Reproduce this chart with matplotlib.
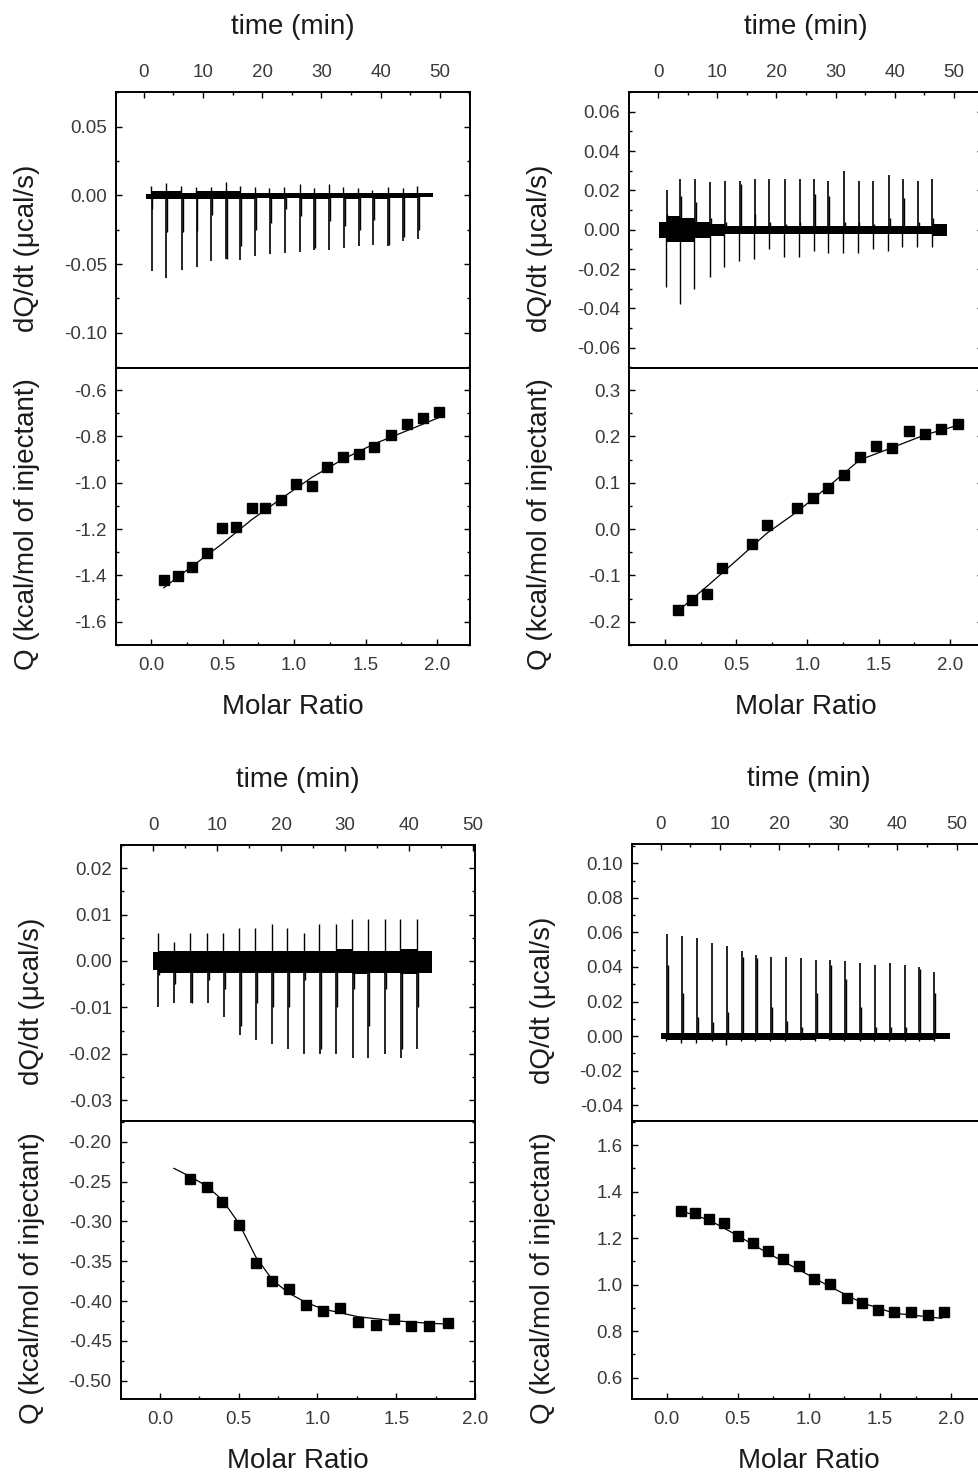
import numpy as np
import matplotlib
matplotlib.use('Agg')
import matplotlib.pyplot as plt
from matplotlib.ticker import MultipleLocator

plt.rcParams['font.family'] = ['Liberation Sans', 'DejaVu Sans']

W, H = 979, 1474  # output size in px (dpi 100)

# ---------------- panel A (top left) ----------------
A_t_span = [0.3, 48.9]
A_inj_t = [1.3, 3.8, 6.4, 8.9, 11.4, 13.9, 16.3, 18.8, 21.3, 23.8, 26.4, 28.8, 31.3, 33.8, 36.3, 38.7, 41.3, 43.8, 46.3]
A_inj_peak = [-0.055, -0.060, -0.054, -0.052, -0.048, -0.046, -0.047, -0.044, -0.043, -0.042,
              -0.041, -0.040, -0.040, -0.038, -0.037, -0.036, -0.037, -0.033, -0.032]
A_inj_tail = [-0.010, -0.027, -0.027, -0.026, -0.014, -0.046, -0.037, -0.025, -0.020, -0.010,
              -0.015, -0.038, -0.019, -0.022, -0.025, -0.018, -0.036, -0.030, -0.025]
A_inj_back = [0.007, 0.009, 0.007, 0.006, 0.006, 0.010, 0.007, 0.006, 0.005, 0.006,
              0.008, 0.005, 0.008, 0.006, 0.005, 0.004, 0.006, 0.005, 0.007]
A_band_hi = [0.001, 0.003, 0.003, 0.002, 0.003, 0.003, 0.003, 0.002, 0.002, 0.002,
             0.002, 0.002, 0.002, 0.002, 0.002, 0.002, 0.002, 0.002, 0.002, 0.002]
A_band_lo = [-0.003, -0.003, -0.003, -0.003, -0.003, -0.003, -0.003, -0.003, -0.002, -0.003,
             -0.002, -0.003, -0.003, -0.002, -0.003, -0.002, -0.003, -0.002, -0.002, -0.001]
A_ratio = [0.089, 0.19, 0.288, 0.391, 0.494, 0.593, 0.705, 0.799, 0.911, 1.016,
           1.124, 1.233, 1.341, 1.451, 1.558, 1.677, 1.787, 1.902, 2.016]
A_q = [-1.420, -1.403, -1.363, -1.305, -1.194, -1.190, -1.108, -1.111, -1.075, -1.006,
       -1.014, -0.934, -0.891, -0.878, -0.847, -0.794, -0.748, -0.722, -0.696]
A_fit_x = [0.089, 0.288, 0.494, 0.700, 0.911, 1.124, 1.341, 1.558, 1.787, 2.027]
A_fit_q = [-1.453, -1.360, -1.265, -1.161, -1.068, -0.977, -0.899, -0.833, -0.776, -0.715]
A_heat_ticks = [0.05, 0.00, -0.05, -0.10]
A_q_ticks = [-0.6, -0.8, -1.0, -1.2, -1.4, -1.6]

# ---------------- panel B (top right) ----------------
B_t_span = [0.2, 48.9]
B_inj_t = [1.4, 3.7, 6.2, 8.8, 11.3, 13.8, 16.3, 18.8, 21.4, 23.9, 26.4, 28.8, 31.4, 33.9, 36.4, 39.0, 41.4, 43.9, 46.4]
B_inj_peak = [0.020, 0.026, 0.026, 0.024, 0.025, 0.025, 0.026, 0.026, 0.026, 0.026,
              0.026, 0.025, 0.030, 0.025, 0.025, 0.028, 0.026, 0.025, 0.026]
B_inj_tail = [0.008, 0.017, 0.014, 0.006, 0.004, 0.023, 0.008, 0.004, 0.003, 0.004,
              0.018, 0.017, 0.004, 0.004, 0.003, 0.006, 0.016, 0.004, 0.006]
B_inj_back = [-0.029, -0.038, -0.030, -0.024, -0.019, -0.016, -0.015, -0.010, -0.014, -0.014,
              -0.011, -0.012, -0.012, -0.012, -0.010, -0.011, -0.009, -0.009, -0.009]
B_band_hi = [0.004, 0.007, 0.006, 0.004, 0.003, 0.002, 0.002, 0.002, 0.002, 0.002,
             0.002, 0.002, 0.002, 0.002, 0.002, 0.002, 0.002, 0.002, 0.002, 0.003]
B_band_lo = [-0.004, -0.006, -0.006, -0.004, -0.003, -0.002, -0.002, -0.002, -0.002, -0.002,
             -0.002, -0.002, -0.002, -0.002, -0.002, -0.002, -0.002, -0.002, -0.002, -0.003]
B_ratio = [0.094, 0.192, 0.295, 0.403, 0.610, 0.715, 0.926, 1.039, 1.144, 1.259,
           1.367, 1.484, 1.597, 1.714, 1.824, 1.941, 2.059]
B_q = [-0.175, -0.153, -0.139, -0.083, -0.032, 0.008, 0.046, 0.068, 0.089, 0.117,
       0.155, 0.179, 0.176, 0.212, 0.205, 0.216, 0.227]
B_fit_x = [0.094, 0.293, 0.504, 0.715, 0.926, 1.144, 1.367, 1.597, 1.824, 2.059]
B_fit_q = [-0.176, -0.124, -0.067, -0.009, 0.037, 0.091, 0.149, 0.176, 0.203, 0.224]
B_heat_ticks = [0.06, 0.04, 0.02, 0.00, -0.02, -0.04, -0.06]
B_q_ticks = [0.3, 0.2, 0.1, 0.0, -0.1, -0.2]

# ---------------- panel C (bottom left) ----------------
C_t_span = [0.0, 43.5]
C_inj_t = [0.8, 3.3, 5.9, 8.5, 11.0, 13.5, 16.0, 18.6, 21.0, 23.6, 26.0, 28.6, 31.2, 33.6, 36.3, 38.7, 41.3]
C_inj_peak = [-0.010, -0.009, -0.009, -0.009, -0.012, -0.016, -0.017, -0.018, -0.019, -0.020,
              -0.020, -0.020, -0.021, -0.021, -0.020, -0.021, -0.019]
C_inj_tail = [-0.003, -0.005, -0.009, -0.004, -0.006, -0.014, -0.009, -0.010, -0.010, -0.004,
              -0.019, -0.010, -0.006, -0.014, -0.006, -0.019, -0.010]
C_inj_back = [0.006, 0.004, 0.006, 0.006, 0.006, 0.007, 0.007, 0.008, 0.007, 0.006,
              0.008, 0.008, 0.009, 0.009, 0.009, 0.009, 0.009]
C_band_hi = [0.002, 0.0022, 0.0022, 0.0022, 0.0022, 0.0022, 0.0022, 0.0022, 0.0022,
             0.0022, 0.0022, 0.0022, 0.0025, 0.0022, 0.0022, 0.0022, 0.0025, 0.0022]
C_band_lo = [-0.002, -0.0025, -0.0025, -0.0025, -0.0025, -0.0025, -0.0025, -0.0025, -0.0025,
             -0.0025, -0.0025, -0.0025, -0.0025, -0.0028, -0.0025, -0.0025, -0.0028, -0.0025]
C_ratio = [0.194, 0.296, 0.397, 0.501, 0.608, 0.714, 0.820, 0.930, 1.035, 1.145,
           1.257, 1.373, 1.483, 1.595, 1.711, 1.828]
C_q = [-0.247, -0.2565, -0.276, -0.305, -0.352, -0.3745, -0.3845, -0.405, -0.412, -0.409,
       -0.426, -0.430, -0.423, -0.431, -0.431, -0.428]
C_fit_x = [0.089, 0.194, 0.296, 0.397, 0.501, 0.560, 0.608, 0.714, 0.820, 0.930,
           1.035, 1.257, 1.483, 1.711, 1.828]
C_fit_q = [-0.2335, -0.2439, -0.2556, -0.2732, -0.3025, -0.3255, -0.3444, -0.3736, -0.3904,
           -0.4021, -0.4100, -0.4197, -0.4247, -0.4280, -0.4289]
C_heat_ticks = [0.02, 0.01, 0.00, -0.01, -0.02, -0.03]
C_q_ticks = [-0.20, -0.25, -0.30, -0.35, -0.40, -0.45, -0.50]

# ---------------- panel D (bottom right) ----------------
D_t_span = [0.0, 48.8]
D_inj_t = [1.0, 3.6, 6.1, 8.7, 11.2, 13.7, 16.1, 18.6, 21.1, 23.7, 26.2, 28.6, 31.1, 33.7, 36.2, 38.7, 41.3, 43.7, 46.2]
D_inj_peak = [0.059, 0.058, 0.057, 0.054, 0.052, 0.049, 0.047, 0.046, 0.046, 0.045,
              0.044, 0.044, 0.0435, 0.0425, 0.041, 0.042, 0.041, 0.040, 0.037]
D_inj_tail = [0.041, 0.025, 0.011, 0.008, 0.014, 0.046, 0.045, 0.017, 0.009, 0.005,
              0.025, 0.041, 0.033, 0.017, 0.005, 0.005, 0.005, 0.039, 0.025]
D_inj_back = [-0.003, -0.004, -0.004, -0.003, -0.005, -0.003, -0.003, -0.003, -0.003, -0.002,
              -0.003, -0.002, -0.003, -0.003, -0.003, -0.003, -0.003, -0.003, -0.003]
D_band_hi = [0.0015, 0.0015, 0.002, 0.0015, 0.002, 0.0015, 0.0015, 0.0015, 0.0015, 0.0015,
             0.0015, 0.0015, 0.002, 0.0015, 0.0015, 0.0015, 0.0015, 0.0015, 0.0015, 0.002]
D_band_lo = [-0.0015, -0.002, -0.002, -0.0025, -0.002, -0.002, -0.002, -0.002, -0.002, -0.002,
             -0.002, -0.0015, -0.002, -0.002, -0.002, -0.002, -0.002, -0.002, -0.002, -0.0015]
D_ratio = [0.098, 0.197, 0.298, 0.406, 0.504, 0.610, 0.715, 0.821, 0.933, 1.039,
           1.149, 1.266, 1.372, 1.489, 1.601, 1.716, 1.834, 1.951]
D_q = [1.318, 1.306, 1.282, 1.263, 1.209, 1.180, 1.146, 1.110, 1.081, 1.023,
       1.003, 0.944, 0.920, 0.891, 0.884, 0.884, 0.871, 0.881]
D_fit_x = [0.098, 0.298, 0.504, 0.715, 0.933, 1.149, 1.372, 1.601, 1.834, 1.934]
D_fit_q = [1.318, 1.278, 1.209, 1.134, 1.063, 0.991, 0.922, 0.877, 0.862, 0.855]
D_heat_ticks = [0.10, 0.08, 0.06, 0.04, 0.02, 0.00, -0.02, -0.04]
D_q_ticks = [1.6, 1.4, 1.2, 1.0, 0.8, 0.6]

time_ticks = [0, 10, 20, 30, 40, 50]
ratio_ticks = [0.0, 0.5, 1.0, 1.5, 2.0]

TICK_C = '#3a3a3a'
LABEL_C = '#1a1a1a'


def px_axes(fig, left, top, width, height):
    return fig.add_axes([left / W, 1 - (top + height) / H, width / W, height / H])


def common_style(ax):
    for s in ax.spines.values():
        s.set_linewidth(1.4)
    ax.tick_params(which='both', direction='in', width=1.0, colors='k',
                   labelcolor=TICK_C, labelsize=13.5)
    ax.tick_params(which='major', length=4.5)
    ax.tick_params(which='minor', length=2.5)


def draw_panel(fig, left, top, mid, bottom, width, tlim, rlim, hlim, qlim,
               t_span, inj_t, peak, tail, back, band_hi, band_lo,
               ratio, q, fit_x, fit_q, heat_ticks, heat_fmt, heat_minor,
               q_ticks, q_fmt, q_minor):
    # thermogram: noisy baseline band + injection spikes
    ax1 = px_axes(fig, left, top, width, mid - top)
    edges = [t_span[0]] + list(inj_t) + [t_span[1]]
    ax1.fill_between(edges, band_lo + [band_lo[-1]], band_hi + [band_hi[-1]],
                     step='post', color='k', linewidth=0)
    ax1.vlines(inj_t, 0, peak, color='k', linewidth=1.2)
    ax1.vlines(np.array(inj_t) + 0.15, 0, tail, color='k', linewidth=1.0)
    ax1.vlines(np.array(inj_t) - 0.1, 0, back, color='k', linewidth=1.0)
    ax1.set_xlim(*tlim)
    ax1.set_ylim(*hlim)
    common_style(ax1)
    ax1.tick_params(axis='x', which='both', top=True, bottom=False,
                    labeltop=True, labelbottom=False, pad=8)
    ax1.tick_params(axis='y', which='both', left=True, right=True, pad=6.5)
    ax1.set_xticks(time_ticks, labels=[str(v) for v in time_ticks])
    ax1.xaxis.set_minor_locator(MultipleLocator(5))
    ax1.set_yticks(heat_ticks, labels=[heat_fmt % v for v in heat_ticks])
    ax1.yaxis.set_minor_locator(MultipleLocator(heat_minor))
    ax1.xaxis.set_label_position('top')
    ax1.set_xlabel('time (min)', fontsize=20, color=LABEL_C)
    ax1.xaxis.set_label_coords(0.5, 1 + 58 / (mid - top))
    ax1.set_ylabel('dQ/dt (\u03bccal/s)', fontsize=20, color=LABEL_C)
    ax1.yaxis.set_label_coords(-76 / width, 0.5 - 18 / (mid - top))

    # integrated heats
    ax2 = px_axes(fig, left, mid, width, bottom - mid)
    ax2.plot(fit_x, fit_q, color='k', linewidth=0.9)
    ax2.plot(ratio, q, linestyle='none', marker='s', markersize=6.5, color='k')
    ax2.set_xlim(*rlim)
    ax2.set_ylim(*qlim)
    common_style(ax2)
    ax2.tick_params(axis='x', which='both', top=False, bottom=True, pad=8.5)
    ax2.tick_params(axis='y', which='both', left=True, right=True, pad=6.5)
    ax2.set_xticks(ratio_ticks, labels=['%.1f' % v for v in ratio_ticks])
    ax2.xaxis.set_minor_locator(MultipleLocator(0.25))
    ax2.set_yticks(q_ticks, labels=[q_fmt % v for v in q_ticks])
    ax2.yaxis.set_minor_locator(MultipleLocator(q_minor))
    ax2.set_xlabel('Molar Ratio', fontsize=20, color=LABEL_C)
    ax2.xaxis.set_label_coords(0.5, -49 / (bottom - mid))
    ax2.set_ylabel('Q (kcal/mol of injectant)', fontsize=20, color=LABEL_C)
    ax2.yaxis.set_label_coords(-76 / width, 0.5 - 18 / (bottom - mid))


fig = plt.figure(figsize=(W / 100, H / 100), dpi=100)

draw_panel(fig, 116, 92, 368, 645, 354, (-4.7, 55.1), (-0.245, 2.23),
           (-0.1256, 0.0751), (-1.70, -0.505),
           A_t_span, A_inj_t, A_inj_peak, A_inj_tail, A_inj_back, A_band_hi, A_band_lo,
           A_ratio, A_q, A_fit_x, A_fit_q, A_heat_ticks, '%.2f', 0.025,
           A_q_ticks, '%.1f', 0.1)

draw_panel(fig, 629.3, 92, 368, 645, 354, (-4.9, 55.0), (-0.251, 2.236),
           (-0.0703, 0.070), (-0.25, 0.3475),
           B_t_span, B_inj_t, B_inj_peak, B_inj_tail, B_inj_back, B_band_hi, B_band_lo,
           B_ratio, B_q, B_fit_x, B_fit_q, B_heat_ticks, '%.2f', 0.01,
           B_q_ticks, '%.1f', 0.05)

draw_panel(fig, 120.7, 845, 1121, 1399.3, 354.3, (-5.1, 50.3), (-0.249, 1.994),
           (-0.0345, 0.025), (-0.5234, -0.174),
           C_t_span, C_inj_t, C_inj_peak, C_inj_tail, C_inj_back, C_band_hi, C_band_lo,
           C_ratio, C_q, C_fit_x, C_fit_q, C_heat_ticks, '%.2f', 0.005,
           C_q_ticks, '%.2f', 0.025)

draw_panel(fig, 631.7, 844.3, 1120.7, 1399.3, 354, (-4.9, 54.9), (-0.246, 2.243),
           (-0.049, 0.111), (0.507, 1.705),
           D_t_span, D_inj_t, D_inj_peak, D_inj_tail, D_inj_back, D_band_hi, D_band_lo,
           D_ratio, D_q, D_fit_x, D_fit_q, D_heat_ticks, '%.2f', 0.01,
           D_q_ticks, '%.1f', 0.1)

fig.savefig('out.png', dpi=100)
